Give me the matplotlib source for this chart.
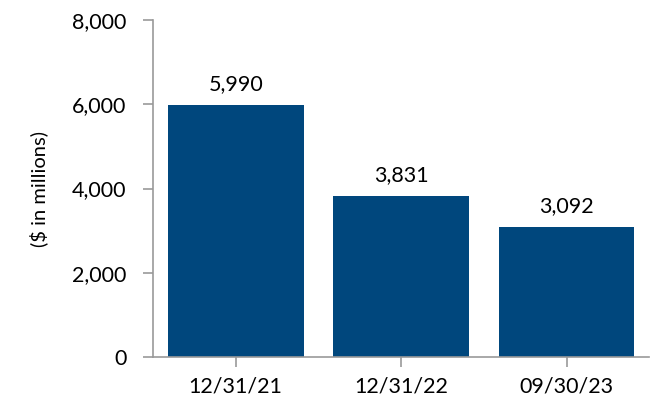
import matplotlib
matplotlib.use("Agg")
import matplotlib.pyplot as plt

dates = ["12/31/21", "12/31/22", "09/30/23"]
values = [5990, 3831, 3092]
yticks = [0, 2000, 4000, 6000, 8000]

plt.rcParams['font.family'] = ['Lato', 'DejaVu Sans']

fig = plt.figure(figsize=(6.68, 4.2), dpi=100)
ax = fig.add_axes([0.229, 0.15, 0.743, 0.802])

x = range(len(dates))
bars = ax.bar(x, values, width=0.82, color="#00477d")
for xi, v in zip(x, values):
    ax.text(xi, v + 250, f"{v:,}", ha="center", va="bottom", fontsize=15.5, color="black")

ax.set_xlim(-0.5, 2.5)
ax.set_ylim(0, 8000)
ax.set_xticks(list(x))
ax.set_xticklabels(dates, fontsize=15.5)
ax.set_yticks(yticks)
ax.set_yticklabels([f"{t:,}" for t in yticks], fontsize=15.5)
ax.set_ylabel("($ in millions)", fontsize=14.5, labelpad=17)

for s in ["top", "right"]:
    ax.spines[s].set_visible(False)
for s in ["left", "bottom"]:
    ax.spines[s].set_color("#999999")
    ax.spines[s].set_linewidth(1.2)
ax.tick_params(axis="both", color="#999999", length=7, width=1.2)
ax.tick_params(axis="y", pad=12)
ax.tick_params(axis="x", pad=7)

fig.savefig("out.png", dpi=100)
